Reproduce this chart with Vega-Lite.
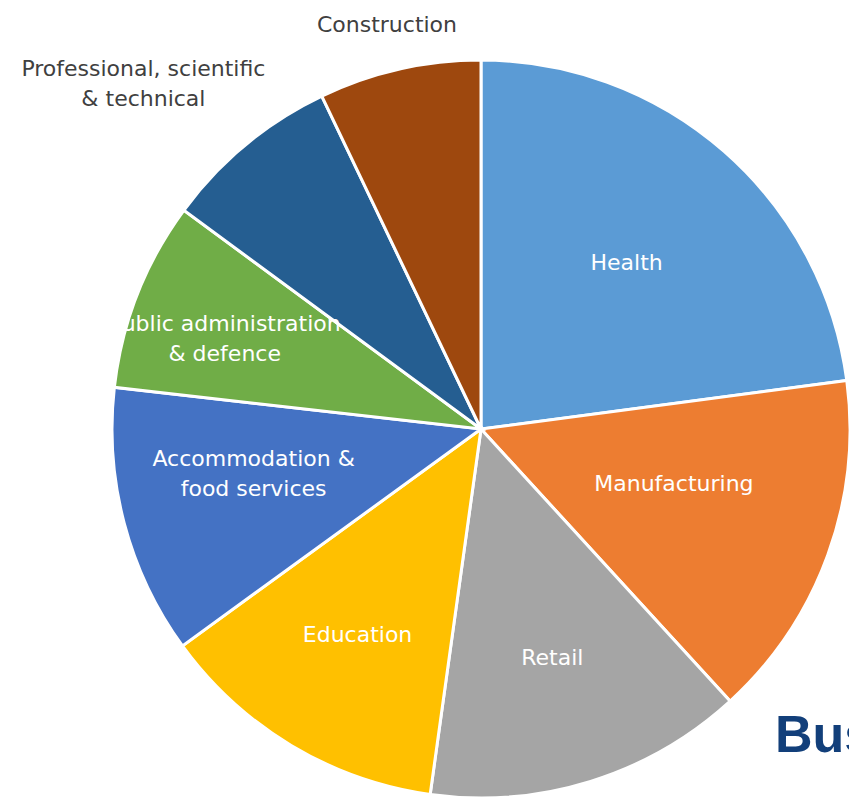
{
  "$schema": "https://vega.github.io/schema/vega-lite/v6.json",
  "width": 736,
  "height": 744,
  "autosize": {"type": "none"},
  "padding": {"left": 113, "top": 57, "right": 0, "bottom": 0},
  "background": "white",
  "config": {"view": {"stroke": null}},
  "layer": [
    {
      "data": {
        "values": [
          {"rank": 1, "sector": "Health", "label": "Health", "share": 22.9},
          {"rank": 2, "sector": "Manufacturing", "label": "Manufacturing", "share": 15.3},
          {"rank": 3, "sector": "Retail", "label": "Retail", "share": 14.0},
          {"rank": 4, "sector": "Education", "label": "Education", "share": 12.8},
          {"rank": 5, "sector": "Accommodation & food services", "label": "Accommodation &\nfood services", "share": 11.8},
          {"rank": 6, "sector": "Public administration & defence", "label": "Public administration\n& defence", "share": 8.3},
          {"rank": 7, "sector": "Professional, scientific & technical", "label": "Professional, scientific\n& technical", "share": 7.8},
          {"rank": 8, "sector": "Construction", "label": "Construction", "share": 7.1}
        ]
      },
      "encoding": {
        "theta": {"field": "share", "type": "quantitative", "stack": true},
        "order": {"field": "rank", "type": "quantitative"},
        "detail": {"field": "sector", "type": "nominal"}
      },
      "layer": [
        {
          "mark": {"type": "arc", "outerRadius": 369, "stroke": "white", "strokeWidth": 3},
          "encoding": {
            "color": {
              "field": "sector",
              "type": "nominal",
              "legend": null,
              "scale": {
                "domain": ["Health", "Manufacturing", "Retail", "Education", "Accommodation & food services", "Public administration & defence", "Professional, scientific & technical", "Construction"],
                "range": ["#5B9BD5", "#ED7D31", "#A5A5A5", "#FFC000", "#4472C4", "#70AD47", "#255E91", "#9E480E"]
              }
            }
          }
        },
        {
          "mark": {"type": "text", "radius": 221, "font": "DejaVu Sans", "fontSize": 22, "fill": "white", "align": "center", "baseline": "middle", "lineBreak": "\n", "lineHeight": 30},
          "encoding": {"text": {"condition": {"test": "datum.rank === 1", "field": "label"}, "value": ""}}
        },
        {
          "mark": {"type": "text", "radius": 201, "dx": 4, "dy": -14, "font": "DejaVu Sans", "fontSize": 22, "fill": "white", "align": "center", "baseline": "middle", "lineBreak": "\n", "lineHeight": 30},
          "encoding": {"text": {"condition": {"test": "datum.rank === 2", "field": "label"}, "value": ""}}
        },
        {
          "mark": {"type": "text", "radius": 240, "font": "DejaVu Sans", "fontSize": 22, "fill": "white", "align": "center", "baseline": "middle", "lineBreak": "\n", "lineHeight": 30},
          "encoding": {"text": {"condition": {"test": "datum.rank === 3 || datum.rank === 4", "field": "label"}, "value": ""}}
        },
        {
          "mark": {"type": "text", "radius": 231, "dx": -4, "dy": -29, "font": "DejaVu Sans", "fontSize": 22, "fill": "white", "align": "center", "baseline": "middle", "lineBreak": "\n", "lineHeight": 30},
          "encoding": {"text": {"condition": {"test": "datum.rank === 5", "field": "label"}, "value": ""}}
        },
        {
          "mark": {"type": "text", "radius": 271, "dx": -4, "dy": -6, "font": "DejaVu Sans", "fontSize": 22, "fill": "white", "align": "center", "baseline": "middle", "lineBreak": "\n", "lineHeight": 30},
          "encoding": {"text": {"condition": {"test": "datum.rank === 6", "field": "label"}, "value": ""}}
        },
        {
          "mark": {"type": "text", "radius": 481, "dx": -31, "dy": 11, "font": "DejaVu Sans", "fontSize": 22, "fill": "#404040", "align": "center", "baseline": "middle", "lineBreak": "\n", "lineHeight": 30},
          "encoding": {"text": {"condition": {"test": "datum.rank === 7", "field": "label"}, "value": ""}}
        },
        {
          "mark": {"type": "text", "radius": 416, "dx": -2, "dy": 2, "font": "DejaVu Sans", "fontSize": 22, "fill": "#404040", "align": "center", "baseline": "middle", "lineBreak": "\n", "lineHeight": 30},
          "encoding": {"text": {"condition": {"test": "datum.rank === 8", "field": "label"}, "value": ""}}
        }
      ]
    },
    {
      "data": {"values": [{"t": "Bus"}]},
      "mark": {"type": "text", "dx": 294, "dy": 323, "font": "Liberation Sans", "fontSize": 52, "fontWeight": "bold", "fill": "#123F7A", "align": "left", "baseline": "alphabetic"},
      "encoding": {"text": {"field": "t", "type": "nominal"}}
    }
  ]
}
